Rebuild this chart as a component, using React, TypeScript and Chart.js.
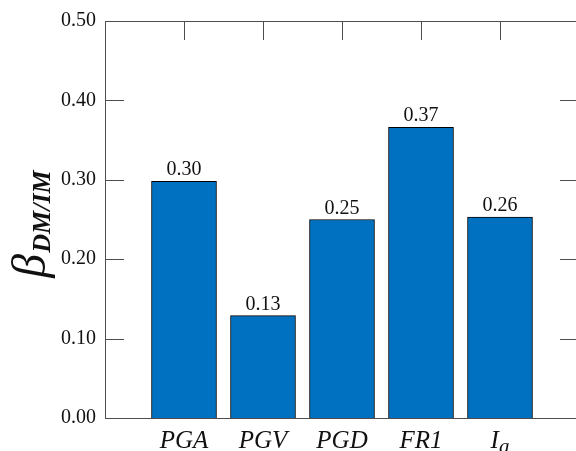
import React, { useEffect, useRef } from 'react';
import { Chart, registerables } from 'chart.js';

Chart.register(...registerables);

// ---- data ----
const categories = ['PGA', 'PGV', 'PGD', 'FR1', 'I_a'];
const betaValues = [0.298, 0.129, 0.25, 0.366, 0.253];
const valueLabels = ['0.30', '0.13', '0.25', '0.37', '0.26'];
const yMin = 0;
const yMax = 0.5;
const yStep = 0.1;
const titleMain = 'β';
const titleSub = 'DM/IM';

// ---- styles ----
const SERIF = '"Liberation Serif", "Times New Roman", serif';
const BAR_FILL = '#0070C0';
const BAR_EDGE = '#000000';
const FRAME = '#4d4d4d';
const TEXT = '#111111';
const TICK_LEN = 19;
const CANVAS_W = 600;
const CANVAS_H = 451;

const drawXLabel = (ctx: CanvasRenderingContext2D, label: string, cx: number, baseY: number) => {
  const [main, sub] = label.split('_');
  ctx.font = `italic 25px ${SERIF}`;
  const wMain = ctx.measureText(main).width;
  let wSub = 0;
  if (sub) {
    ctx.font = `italic 21px ${SERIF}`;
    wSub = ctx.measureText(sub).width;
  }
  const start = cx - (wMain + wSub) / 2;
  ctx.textAlign = 'left';
  ctx.textBaseline = 'alphabetic';
  ctx.font = `italic 25px ${SERIF}`;
  ctx.fillText(main, start, baseY);
  if (sub) {
    ctx.font = `italic 21px ${SERIF}`;
    ctx.fillText(sub, start + wMain, baseY + 5);
  }
};

const decorPlugin = {
  id: 'decor',
  beforeDatasetsDraw(chart: any) {
    const { ctx, chartArea: a, scales } = chart;
    const xs = scales.x;
    const ys = scales.y;
    ctx.save();
    ctx.strokeStyle = FRAME;
    ctx.lineWidth = 1;
    ctx.beginPath();
    ys.ticks.forEach((t: any) => {
      const py = Math.round(ys.getPixelForValue(t.value)) + 0.5;
      ctx.moveTo(a.left, py);
      ctx.lineTo(a.left + TICK_LEN, py);
      ctx.moveTo(a.right, py);
      ctx.lineTo(a.right - TICK_LEN, py);
    });
    categories.forEach((_, i) => {
      const px = Math.round(xs.getPixelForValue(i + 1)) + 0.5;
      ctx.moveTo(px, a.top);
      ctx.lineTo(px, a.top + TICK_LEN);
      ctx.moveTo(px, a.bottom);
      ctx.lineTo(px, a.bottom - TICK_LEN);
    });
    ctx.stroke();
    ctx.restore();
  },
  afterDatasetsDraw(chart: any) {
    const { ctx, chartArea: a, scales } = chart;
    const xs = scales.x;
    ctx.save();
    // frame
    ctx.strokeStyle = FRAME;
    ctx.lineWidth = 1;
    ctx.strokeRect(Math.round(a.left) + 0.5, Math.round(a.top) + 0.5, Math.round(a.right - a.left), Math.round(a.bottom - a.top));

    // value labels
    const meta = chart.getDatasetMeta(0);
    ctx.fillStyle = TEXT;
    ctx.font = `20px ${SERIF}`;
    ctx.textAlign = 'center';
    ctx.textBaseline = 'alphabetic';
    categories.forEach((_, i) => {
      const el = meta.data[i + 1];
      if (!el) return;
      ctx.fillText(valueLabels[i], el.x, el.y - 6);
    });

    // x labels
    categories.forEach((c, i) => {
      drawXLabel(ctx, c, xs.getPixelForValue(i + 1), a.bottom + 30);
    });

    // y title
    const cy = (a.top + a.bottom) / 2 + 5;
    ctx.translate(45, cy);
    ctx.rotate(-Math.PI / 2);
    ctx.font = `italic 48px ${SERIF}`;
    const wMain = ctx.measureText(titleMain).width;
    ctx.font = `italic bold 26px ${SERIF}`;
    const wSub = ctx.measureText(titleSub).width;
    const start = -(wMain + wSub) / 2;
    ctx.textAlign = 'left';
    ctx.font = `italic 48px ${SERIF}`;
    ctx.fillText(titleMain, start, 0);
    ctx.font = `italic bold 26px ${SERIF}`;
    ctx.fillText(titleSub, start + wMain + 1, 5);
    ctx.restore();
  },
};

export default function App() {
  const ref = useRef<HTMLCanvasElement | null>(null);

  useEffect(() => {
    if (!ref.current) return;
    const chart = new Chart(ref.current, {
      type: 'bar',
      data: {
        labels: ['', ...categories, ''],
        datasets: [
          {
            data: [null, ...betaValues, null],
            backgroundColor: BAR_FILL,
            borderColor: BAR_EDGE,
            borderWidth: 1,
            barThickness: 65,
          } as any,
        ],
      },
      options: {
        responsive: false,
        animation: false,
        devicePixelRatio: 1,
        layout: { padding: { left: 0, right: CANVAS_W - 579, top: 19, bottom: 0 } },
        plugins: {
          legend: { display: false },
          tooltip: { enabled: false },
          title: { display: false },
        },
        scales: {
          x: {
            type: 'category',
            offset: false,
            grid: { display: false },
            border: { display: false },
            ticks: { display: false },
            afterFit: (s: any) => {
              s.height = CANVAS_H - 418;
            },
          },
          y: {
            min: yMin,
            max: yMax,
            grid: { display: false, drawTicks: false, tickLength: 0 },
            border: { display: false },
            ticks: {
              stepSize: yStep,
              padding: 9,
              color: TEXT,
              font: { family: SERIF, size: 20 },
              callback: (v: any) => Number(v).toFixed(2),
            },
            afterFit: (s: any) => {
              s.width = 105;
            },
          },
        },
      },
      plugins: [decorPlugin],
    });
    return () => chart.destroy();
  }, []);

  return (
    <div style={{ position: 'fixed', left: 0, top: 0, width: 576, height: 451, overflow: 'hidden', background: '#fff' }}>
      <canvas ref={ref} width={CANVAS_W} height={CANVAS_H} style={{ display: 'block' }} />
    </div>
  );
}
